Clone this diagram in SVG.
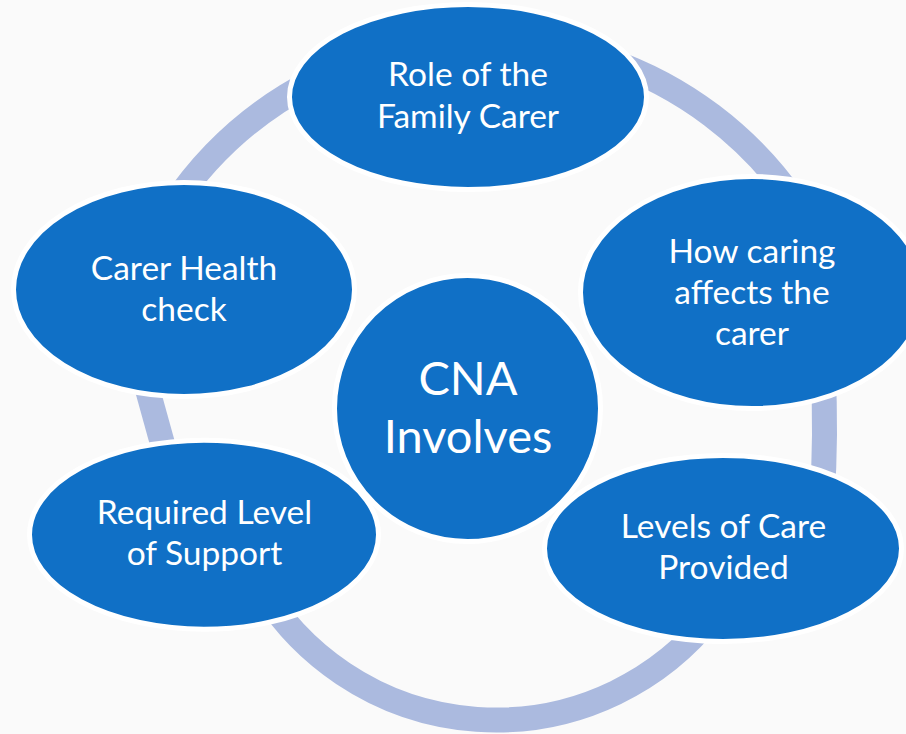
<svg xmlns="http://www.w3.org/2000/svg" width="906" height="734" viewBox="0 0 906 734">
  <style>
    .ring { fill: none; stroke: #ABBADF; stroke-width: 25; stroke-linecap: butt; }
    .node { fill: #1070C6; stroke: #FFFFFF; stroke-width: 5; }
    .lbl { fill: #FFFFFF; font-family: Lato, "Open Sans", "Liberation Sans", sans-serif; font-size: 33.5px; text-anchor: middle; }
    .big { font-size: 47px; }
  </style>
  <rect x="0" y="0" width="906" height="734" fill="#FAFAFA"/>
  <g id="connectors">
    <path class="ring" d="M 172.9 205.5 A 376.5 376.5 0 0 1 314.1 80.5"/>
    <path class="ring" d="M 607.6 60.0 A 376.5 376.5 0 0 1 793.4 200.0"/>
    <path class="ring" d="M 823 370 Q 826.5 435 822 500"/>
    <path class="ring" d="M 712.7 614.3 A 275 275 0 0 1 257.8 582.5"/>
    <path class="ring" d="M 144 377 L 167 460"/>
  </g>
  <g id="node-role">
    <ellipse class="node" cx="468" cy="97" rx="178.5" ry="92.5"/>
    <text class="lbl" x="468" y="86">Role of the</text>
    <text class="lbl" x="468" y="127.5">Family Carer</text>
  </g>
  <g id="node-how">
    <ellipse class="node" cx="752" cy="292.5" rx="171.5" ry="116"/>
    <text class="lbl" x="752" y="262.5">How caring</text>
    <text class="lbl" x="752" y="303.5">affects the</text>
    <text class="lbl" x="752" y="345">carer</text>
  </g>
  <g id="node-levels">
    <ellipse class="node" cx="723" cy="548.5" rx="178.5" ry="93"/>
    <text class="lbl" x="723.5" y="538">Levels of Care</text>
    <text class="lbl" x="723.5" y="579">Provided</text>
  </g>
  <g id="node-required">
    <ellipse class="node" cx="204" cy="534.7" rx="174.5" ry="94.5"/>
    <text class="lbl" x="204.5" y="524">Required Level</text>
    <text class="lbl" x="204.5" y="565">of Support</text>
  </g>
  <g id="node-health">
    <ellipse class="node" cx="184" cy="289.5" rx="170.5" ry="107"/>
    <text class="lbl" x="184" y="280">Carer Health</text>
    <text class="lbl" x="184" y="320.5">check</text>
  </g>
  <g id="node-center">
    <circle class="node" cx="467.5" cy="408.5" r="133"/>
    <text class="lbl big" x="468" y="395">CNA</text>
    <text class="lbl big" x="468" y="453">Involves</text>
  </g>
</svg>
